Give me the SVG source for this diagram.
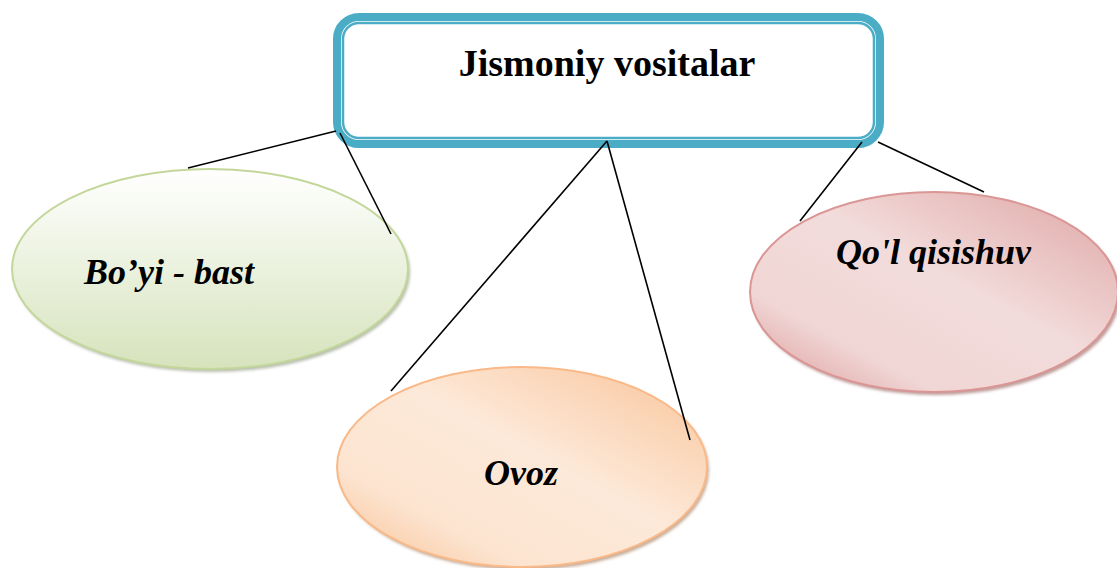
<svg xmlns="http://www.w3.org/2000/svg" width="1117" height="568" viewBox="0 0 1117 568">
<style>
.conn line{stroke:#000;stroke-width:1.6;}
.lbl{font-family:"Liberation Serif","DejaVu Serif",serif;font-weight:bold;font-style:italic;font-size:36px;fill:#000;}
.title{font-family:"Liberation Serif","DejaVu Serif",serif;font-weight:bold;font-size:38px;fill:#000;}
</style>
<defs>
<linearGradient id="gG" x1="0" y1="0" x2="0" y2="1">
<stop offset="0" stop-color="#ffffff"/><stop offset="1" stop-color="#d6e3bc"/>
</linearGradient>
<linearGradient id="gP" x1="1" y1="0" x2="0" y2="1">
<stop offset="0" stop-color="#dea5a4"/><stop offset="0.45" stop-color="#f2dcdb"/><stop offset="0.75" stop-color="#f0d6d5"/><stop offset="1" stop-color="#d99694"/>
</linearGradient>
<linearGradient id="gO" x1="1" y1="0" x2="0" y2="1">
<stop offset="0" stop-color="#f9c499"/><stop offset="0.45" stop-color="#fde9d9"/><stop offset="0.75" stop-color="#fce4d0"/><stop offset="1" stop-color="#f9bf90"/>
</linearGradient>
<filter id="sh" x="-10%" y="-10%" width="120%" height="130%">
<feGaussianBlur stdDeviation="1.5"/>
</filter>
</defs>
<rect width="1117" height="568" fill="#fff"/>
<g id="node-top">
<rect x="337" y="17" width="543" height="127" rx="22" fill="#fff" stroke="#4bacc6" stroke-width="8"/>
<rect x="343" y="23" width="531" height="115" rx="16" fill="#fff" stroke="#4bacc6" stroke-width="2.5"/>
<text class="title" x="607" y="76" text-anchor="middle">Jismoniy vositalar</text>
</g>
<g id="node-boyi">
<ellipse cx="212" cy="272" rx="198" ry="100" fill="#9aa38a" opacity="0.7" filter="url(#sh)"/>
<ellipse cx="210" cy="269" rx="198" ry="100" fill="url(#gG)" stroke="#c4d79b" stroke-width="2"/>
<text class="lbl" x="84" y="284">Bo’yi - bast</text>
</g>
<g id="node-ovoz">
<ellipse cx="524" cy="470" rx="185" ry="100" fill="#b0896a" opacity="0.7" filter="url(#sh)"/>
<ellipse cx="522" cy="467" rx="185" ry="100" fill="url(#gO)" stroke="#f9b988" stroke-width="2"/>
<text class="lbl" x="521" y="485" text-anchor="middle">Ovoz</text>
</g>
<g id="node-qol">
<ellipse cx="936" cy="295" rx="184" ry="100" fill="#a27270" opacity="0.7" filter="url(#sh)"/>
<ellipse cx="934" cy="292" rx="184" ry="100" fill="url(#gP)" stroke="#d99694" stroke-width="2"/>
<text class="lbl" x="836" y="264">Qo'l qisishuv</text>
</g>
<g id="connectors" class="conn">
<line x1="336" y1="131" x2="188" y2="168"/>
<line x1="340" y1="133" x2="391" y2="234"/>
<line x1="607" y1="141" x2="391" y2="391"/>
<line x1="607" y1="141" x2="690" y2="440"/>
<line x1="862" y1="142" x2="800" y2="221"/>
<line x1="878" y1="142" x2="984" y2="192"/>
</g>
</svg>
